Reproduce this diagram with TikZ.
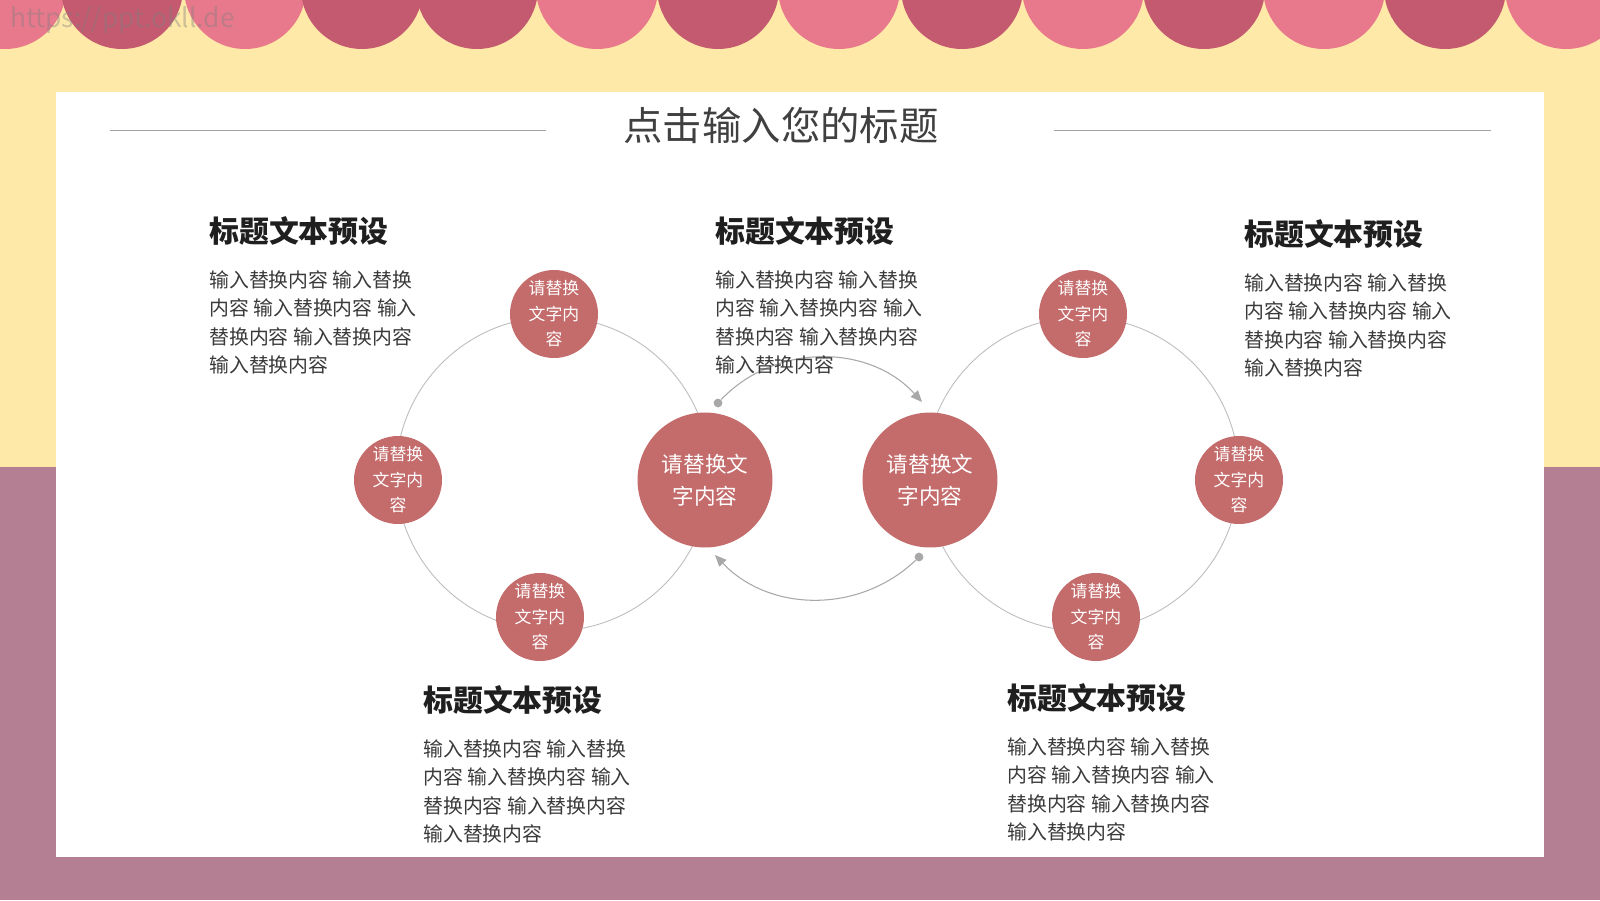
\documentclass[tikz,border=0pt]{standalone}
\usepackage{fontspec}
\newfontfamily\cjk{Noto Sans CJK SC}
\usetikzlibrary{arrows.meta}
\definecolor{bgyellow}{HTML}{FFE9A8}
\definecolor{bgmauve}{HTML}{B47F92}
\definecolor{scallight}{HTML}{E8798C}
\definecolor{scaldark}{HTML}{C45A70}
\definecolor{dotred}{HTML}{C46B6B}
\definecolor{ringgray}{HTML}{BDBDBD}
\definecolor{arrowgray}{HTML}{A8A8A8}
\definecolor{titlegray}{HTML}{404040}
\definecolor{bodygray}{HTML}{3A3A3A}

\begin{document}
\begin{tikzpicture}[x=0.02cm, y=-0.02cm,
  bigdot/.style={circle, fill=dotred, minimum size=2.7cm, inner sep=0pt, text=white, align=center, font=\cjk\fontsize{12.3}{18.5}\selectfont},
  smalldot/.style={circle, fill=dotred, minimum size=1.76cm, inner sep=0pt, text=white, align=center, font=\cjk\fontsize{9.6}{14.5}\selectfont},
  ring/.style={draw=ringgray, line width=0.5pt},
  head/.style={anchor=base west, inner sep=0pt, text=black!88, font=\cjk\bfseries\fontsize{17}{20}\selectfont},
  body/.style={anchor=base west, align=left, inner sep=0pt, text=bodygray, font=\cjk\fontsize{11.3}{16.2}\selectfont},
  arr/.style={draw=arrowgray, line width=0.6pt, -{Triangle[length=6.5pt,width=5.5pt]}},
  pin/.style={circle, fill=arrowgray, minimum size=5pt, inner sep=0pt},
]
  \clip (0,0) rectangle (1600,900);

  % background
  \fill[bgyellow] (0,0) rectangle (1600,467);
  \fill[bgmauve] (0,467) rectangle (1600,900);
  \foreach \cx/\col in {5/scallight,122/scaldark,245/scallight,362/scaldark,477/scaldark,597/scallight,718/scaldark,839/scallight,962/scaldark,1083/scallight,1204/scaldark,1324/scallight,1445/scaldark,1566/scallight}
    \fill[\col] (\cx,-12) circle[radius=1.22cm];
  \node[text=gray, opacity=0.4, font=\cjk\fontsize{15}{18}\selectfont, anchor=west] (mark) at (4,20) {https://ppt.okll.de};
  \fill[white] (56,92) rectangle (1544,857);

  % title
  \node[text=titlegray, font=\cjk\fontsize{22.4}{26}\selectfont] (title) at (781,125) {点击输入您的标题};
  \draw[ringgray!85!black, line width=0.6pt] (110,130.6) -- (546,130.6);
  \draw[ringgray!85!black, line width=0.6pt] (1054,130.6) -- (1491,130.6);

  % rings
  \draw[ring] (553,474) circle[radius=3.14cm];
  \draw[ring] (1082,474) circle[radius=3.14cm];

  \node[smalldot] (l1) at (554,314) {请替换\\文字内\\容};
  \node[smalldot] (l2) at (398,480) {请替换\\文字内\\容};
  \node[smalldot] (l3) at (540,617) {请替换\\文字内\\容};
  \node[smalldot] (r1) at (1083,314) {请替换\\文字内\\容};
  \node[smalldot] (r2) at (1239,480) {请替换\\文字内\\容};
  \node[smalldot] (r3) at (1096,617) {请替换\\文字内\\容};

  \node[bigdot] (cl) at (705,480) {请替换文\\字内容};
  \node[bigdot] (cr) at (930,480) {请替换文\\字内容};

  % arrows between the two centres
  \node[pin] (pa) at (718,403) {};
  \coordinate (ta) at (922,402);
  \node[pin] (pb) at (919,557) {};
  \coordinate (tb) at (715,555);
  \draw[arr] (pa) to[bend left=47] (ta);
  \draw[arr] (pb) to[bend left=45] (tb);

  % text blocks (body anchored on its last line)
  \node[head] (h1) at (209,242) {标题文本预设};
  \node[body] (b1) at (209,372.7) {输入替换内容 输入替换\\内容 输入替换内容 输入\\替换内容 输入替换内容\\输入替换内容};
  \node[head] (h2) at (715,242) {标题文本预设};
  \node[body] (b2) at (715,372.7) {输入替换内容 输入替换\\内容 输入替换内容 输入\\替换内容 输入替换内容\\输入替换内容};
  \node[head] (h3) at (1244,245) {标题文本预设};
  \node[body] (b3) at (1244,375.7) {输入替换内容 输入替换\\内容 输入替换内容 输入\\替换内容 输入替换内容\\输入替换内容};
  \node[head] (h4) at (423,711) {标题文本预设};
  \node[body] (b4) at (423,841.7) {输入替换内容 输入替换\\内容 输入替换内容 输入\\替换内容 输入替换内容\\输入替换内容};
  \node[head] (h5) at (1007,709) {标题文本预设};
  \node[body] (b5) at (1007,839.7) {输入替换内容 输入替换\\内容 输入替换内容 输入\\替换内容 输入替换内容\\输入替换内容};
\end{tikzpicture}
\end{document}
